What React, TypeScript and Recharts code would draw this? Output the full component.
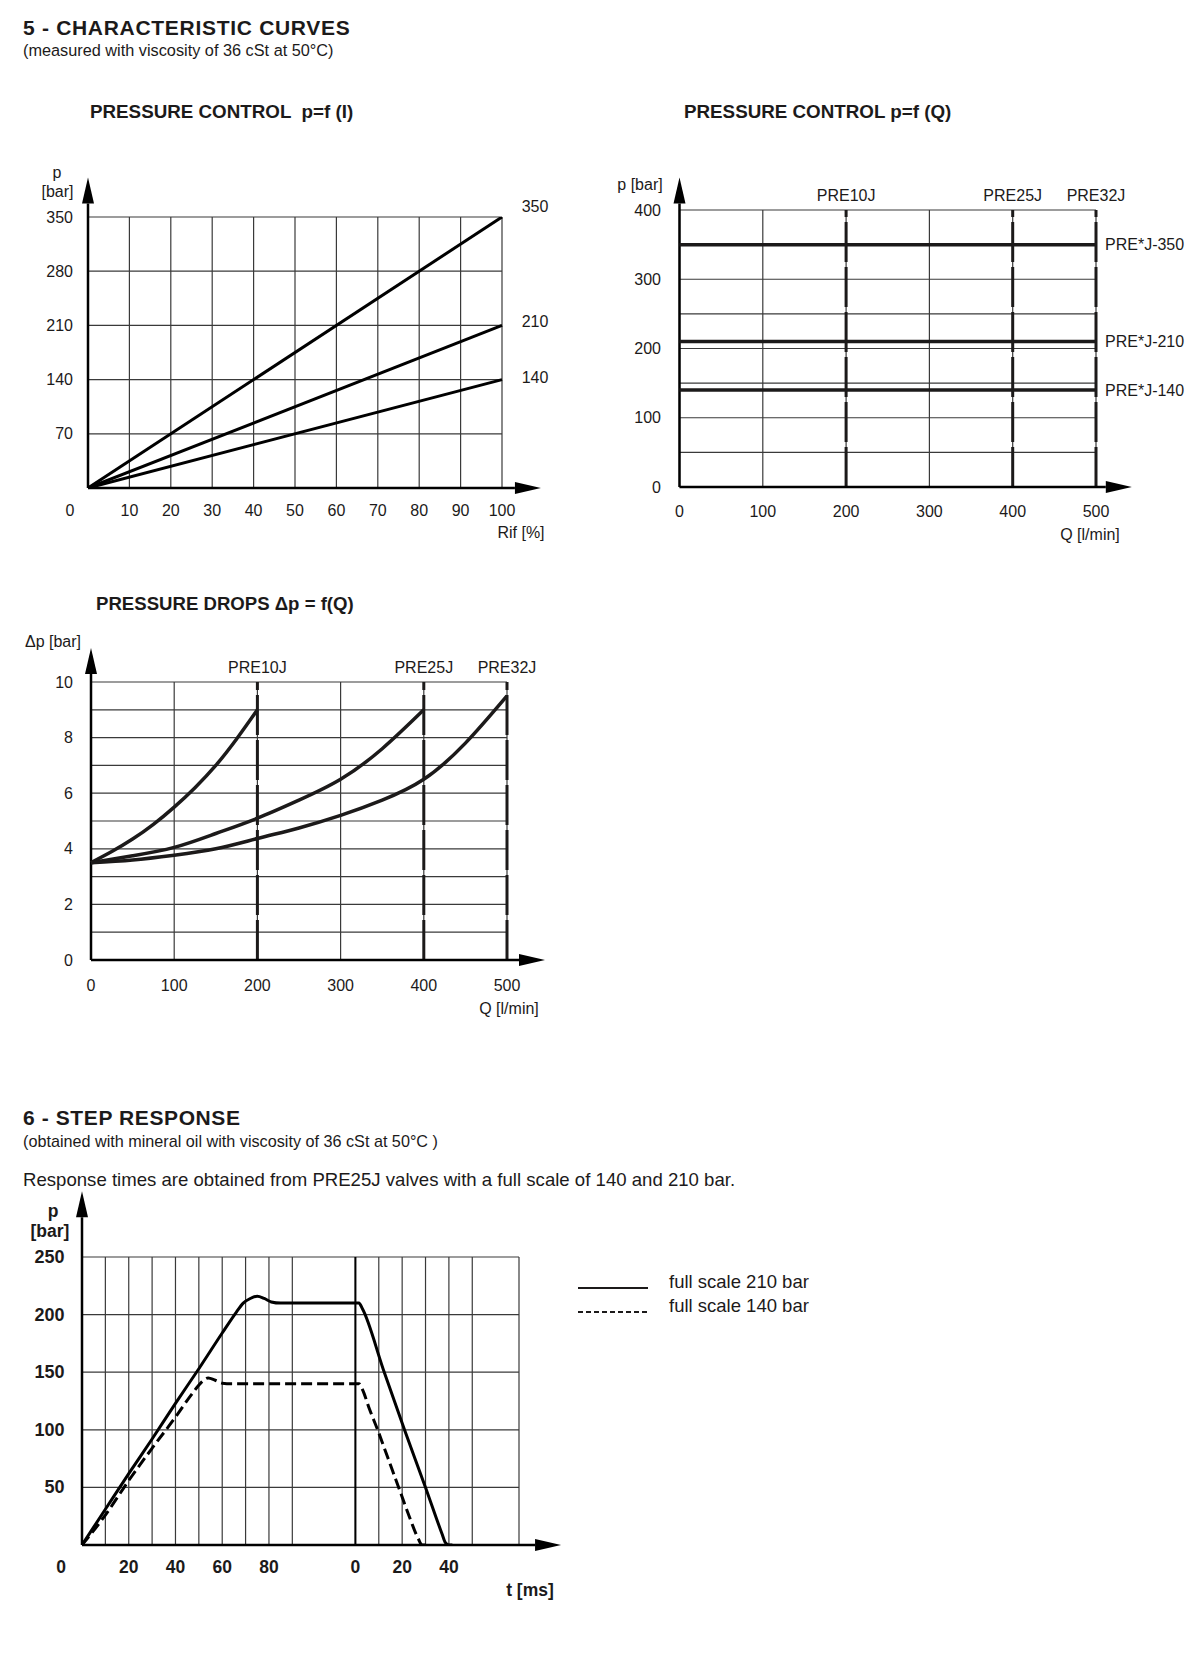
import React from 'react';
import {
    CartesianGrid,
    Legend,
    Line,
    LineChart,
    ReferenceLine,
    XAxis,
    YAxis,
} from 'recharts';

const FONT = '"Liberation Sans", Arial, Helvetica, sans-serif';
const INK = '#1c1a1a';
const GRID = '#3a3a3a';

// 5.1 pressure control p = f(I)
const RIF = [0, 100];
const P_FS350 = [0, 350];
const P_FS210 = [0, 210];
const P_FS140 = [0, 140];
const RIF_TICKS = [0, 10, 20, 30, 40, 50, 60, 70, 80, 90, 100];
const P_TICKS = [0, 70, 140, 210, 280, 350];
const FS_TAGS = [350, 210, 140];

// 5.2 pressure control p = f(Q)
const Q_RANGE = [0, 500];
const PQ_350 = [350, 350];
const PQ_210 = [210, 210];
const PQ_140 = [140, 140];
const Q_TICKS = [0, 100, 200, 300, 400, 500];
const PQ_TICKS = [0, 50, 100, 150, 200, 250, 300, 350, 400];
const SETTING_TAGS = [350, 210, 140];
const SIZES = ['PRE10J', 'PRE25J', 'PRE32J'];
const SIZE_QMAX = [200, 400, 500];

// 5.3 pressure drops dp = f(Q)
const DP10_Q = [0, 25, 50, 75, 100, 125, 150, 175, 200];
const DP10 = [3.5, 3.9, 4.35, 4.88, 5.5, 6.2, 7.0, 7.95, 9.0];
const DP25_Q = [0, 50, 100, 150, 200, 250, 300, 350, 400];
const DP25 = [3.5, 3.75, 4.05, 4.55, 5.1, 5.75, 6.5, 7.6, 9.0];
const DP32_Q = [0, 50, 100, 150, 200, 250, 300, 350, 400, 450, 500];
const DP32 = [3.5, 3.6, 3.77, 4.0, 4.37, 4.75, 5.2, 5.75, 6.5, 7.8, 9.5];
const DP_TICKS = [0, 1, 2, 3, 4, 5, 6, 7, 8, 9, 10];

// 6 step response (time in ms, rise from first origin, fall from second origin)
const RISE_T_210 = [0, 10, 20, 30, 40, 50, 60, 66, 69, 72, 75, 78, 81, 85, 117];
const RISE_P_210 = [0, 31, 62, 92, 123, 153, 184, 202, 210, 214, 216, 214, 211, 210, 210];
const FALL_T_210 = [0, 1.5, 3, 12, 21, 30, 37, 38.5, 40, 41.5];
const FALL_P_210 = [210, 210, 205, 152, 100, 50, 10, 2, 0, 0];
const RISE_T_140 = [0, 10, 20, 30, 40, 47, 51, 54, 57, 60, 64, 117];
const RISE_P_140 = [0, 26, 56, 84, 111, 131, 141, 145, 143, 140.5, 140, 140];
const FALL_T_140 = [0, 1.5, 3, 6, 9.5, 14, 18.5, 23, 27, 28.5, 30.5];
const FALL_P_140 = [140, 140, 135, 118, 100, 75, 50, 25, 5, 0, 0];
const STEP_NAMES = ['full scale 210 bar', 'full scale 140 bar'];
const T_GRID_RISE = [0, 10, 20, 30, 40, 50, 60, 70, 80, 90];
const T_GRID_FALL = [0, 10, 20, 30, 40, 50, 70];
const T_LABELS_RISE = [0, 20, 40, 60, 80];
const T_LABELS_FALL = [0, 20, 40];
const SR_P_TICKS = [0, 50, 100, 150, 200, 250];
const FALL_ORIGIN = 117; // where the broken time axis restarts at 0

const rifRows = RIF.map((x, i) => ({ x, p350: P_FS350[i], p210: P_FS210[i], p140: P_FS140[i] }));
const qRows = Q_RANGE.map((x, i) => ({ x, p350: PQ_350[i], p210: PQ_210[i], p140: PQ_140[i] }));
const dp10Rows = DP10_Q.map((x, i) => ({ x, dp: DP10[i] }));
const dp25Rows = DP25_Q.map((x, i) => ({ x, dp: DP25[i] }));
const dp32Rows = DP32_Q.map((x, i) => ({ x, dp: DP32[i] }));
const stepRows = (rt: number[], rp: number[], ft: number[], fp: number[]) => [
    ...rt.map((t, i) => ({ x: t, p: rp[i] })),
    ...ft.map((t, i) => ({ x: FALL_ORIGIN + t, p: fp[i] })),
];
const step210 = stepRows(RISE_T_210, RISE_P_210, FALL_T_210, FALL_P_210);
const step140 = stepRows(RISE_T_140, RISE_P_140, FALL_T_140, FALL_P_140);
const stepGrid = [...T_GRID_RISE, ...T_GRID_FALL.map((t) => FALL_ORIGIN + t)];

type TickOpts = {
    dx?: number;
    dy?: number;
    size?: number;
    bold?: boolean;
    anchor?: 'start' | 'middle' | 'end';
    text?: (v: number) => string;
    shift?: Record<string, [number, number]>;
};

const makeTick = (o: TickOpts) => (props: any) => {
    const { x, y, payload } = props;
    const v = payload?.value;
    const label = o.text ? o.text(v) : String(v);
    if (!label) return <g />;
    const [sx, sy] = o.shift?.[String(v)] ?? [0, 0];
    return (
        <text
            x={x + (o.dx ?? 0) + sx}
            y={y + (o.dy ?? 0) + sy}
            textAnchor={o.anchor ?? 'middle'}
            dominantBaseline="central"
            fontSize={o.size ?? 16}
            fontWeight={o.bold ? 700 : 400}
            fill={INK}
        >
            {label}
        </text>
    );
};

const arrowShape = (props: any) => {
    const { x1, y1, x2, y2 } = props;
    const len = Math.hypot(x2 - x1, y2 - y1) || 1;
    const ux = (x2 - x1) / len;
    const uy = (y2 - y1) / len;
    const bx = x2 - ux * 26;
    const by = y2 - uy * 26;
    const px = -uy * 6;
    const py = ux * 6;
    return (
        <g>
            <line x1={x1} y1={y1} x2={bx} y2={by} stroke="#000" strokeWidth={2.5} />
            <polygon
                points={`${x2},${y2} ${bx + px},${by + py} ${bx - px},${by - py}`}
                fill="#000"
            />
        </g>
    );
};

const sizeLine = (q: number, name: string) => (
    <ReferenceLine
        key={name}
        x={q}
        stroke={INK}
        strokeWidth={3}
        strokeDasharray="40 5"
        label={{ value: name, position: 'top', offset: 9, fontSize: 16, fill: INK }}
    />
);

function PressureCurrentChart() {
    return (
        <LineChart
            width={600}
            height={400}
            data={rifRows}
            margin={{ top: 67, right: 38, bottom: 22, left: 0 }}
        >
            <CartesianGrid stroke={GRID} strokeWidth={1.2} />
            <XAxis
                dataKey="x"
                type="number"
                domain={[0, 100]}
                ticks={RIF_TICKS}
                interval={0}
                height={40}
                axisLine={false}
                tickLine={false}
                tickSize={0}
                tick={makeTick({ dy: 20, shift: { '0': [-18, 0] } })}
            />
            <YAxis
                type="number"
                domain={[0, 350]}
                ticks={P_TICKS}
                interval={0}
                width={88}
                axisLine={false}
                tickLine={false}
                tickSize={0}
                allowDataOverflow
                tick={makeTick({ dx: -13, anchor: 'end', text: (v) => (v ? String(v) : '') })}
            />
            <YAxis
                yAxisId="tags"
                orientation="right"
                type="number"
                domain={[0, 350]}
                ticks={FS_TAGS}
                interval={0}
                width={60}
                axisLine={false}
                tickLine={false}
                tickSize={0}
                allowDataOverflow
                tick={makeTick({
                    dx: 31,
                    shift: { '350': [0, -11], '210': [0, -4], '140': [0, -2] },
                })}
            />
            <ReferenceLine segment={[{ x: 0, y: 0 }, { x: 109.4, y: 0 }]} ifOverflow="visible" shape={arrowShape} />
            <ReferenceLine segment={[{ x: 0, y: 0 }, { x: 0, y: 401 }]} ifOverflow="visible" shape={arrowShape} />
            {['p350', 'p210', 'p140'].map((k) => (
                <Line
                    key={k}
                    dataKey={k}
                    type="linear"
                    stroke="#000"
                    strokeWidth={3}
                    dot={false}
                    activeDot={false}
                    isAnimationActive={false}
                />
            ))}
        </LineChart>
    );
}

function PressureFlowChart() {
    return (
        <LineChart
            width={600}
            height={400}
            data={qRows}
            margin={{ top: 60, right: 4, bottom: 23, left: 0 }}
        >
            <CartesianGrid stroke={GRID} strokeWidth={1.2} />
            <XAxis
                dataKey="x"
                type="number"
                domain={[0, 500]}
                ticks={Q_TICKS}
                interval={0}
                height={40}
                axisLine={false}
                tickLine={false}
                tickSize={0}
                tick={makeTick({ dy: 22 })}
            />
            <YAxis
                type="number"
                domain={[0, 400]}
                ticks={PQ_TICKS}
                interval={0}
                width={79.5}
                axisLine={false}
                tickLine={false}
                tickSize={0}
                allowDataOverflow
                tick={makeTick({ dx: -16.5, anchor: 'end', text: (v) => (v % 100 === 0 ? String(v) : '') })}
            />
            <YAxis
                yAxisId="tags"
                orientation="right"
                type="number"
                domain={[0, 400]}
                ticks={SETTING_TAGS}
                interval={0}
                width={100}
                axisLine={false}
                tickLine={false}
                tickSize={0}
                allowDataOverflow
                tick={makeTick({ dx: 7, anchor: 'start', text: (v) => `PRE*J-${v}` })}
            />
            {SIZES.map((s, i) => sizeLine(SIZE_QMAX[i], s))}
            <ReferenceLine segment={[{ x: 0, y: 0 }, { x: 543, y: 0 }]} ifOverflow="visible" shape={arrowShape} />
            <ReferenceLine segment={[{ x: 0, y: 0 }, { x: 0, y: 447 }]} ifOverflow="visible" shape={arrowShape} />
            {['p350', 'p210', 'p140'].map((k) => (
                <Line
                    key={k}
                    dataKey={k}
                    type="linear"
                    stroke={INK}
                    strokeWidth={3.5}
                    dot={false}
                    activeDot={false}
                    isAnimationActive={false}
                />
            ))}
        </LineChart>
    );
}

function PressureDropChart() {
    return (
        <LineChart
            width={600}
            height={420}
            margin={{ top: 62, right: 93, bottom: 40, left: 0 }}
        >
            <CartesianGrid stroke={GRID} strokeWidth={1.2} />
            <XAxis
                dataKey="x"
                type="number"
                domain={[0, 500]}
                ticks={Q_TICKS}
                interval={0}
                height={40}
                axisLine={false}
                tickLine={false}
                tickSize={0}
                tick={makeTick({ dy: 23 })}
            />
            <YAxis
                type="number"
                domain={[0, 10]}
                ticks={DP_TICKS}
                interval={0}
                width={91}
                axisLine={false}
                tickLine={false}
                tickSize={0}
                allowDataOverflow
                tick={makeTick({ dx: -16, anchor: 'end', text: (v) => (v % 2 === 0 ? String(v) : '') })}
            />
            {SIZES.map((s, i) => sizeLine(SIZE_QMAX[i], s))}
            <ReferenceLine segment={[{ x: 0, y: 0 }, { x: 545.7, y: 0 }]} ifOverflow="visible" shape={arrowShape} />
            <ReferenceLine segment={[{ x: 0, y: 0 }, { x: 0, y: 11.22 }]} ifOverflow="visible" shape={arrowShape} />
            {[dp10Rows, dp25Rows, dp32Rows].map((rows, i) => (
                <Line
                    key={SIZES[i]}
                    data={rows}
                    dataKey="dp"
                    type="natural"
                    stroke={INK}
                    strokeWidth={3.5}
                    dot={false}
                    activeDot={false}
                    isAnimationActive={false}
                />
            ))}
        </LineChart>
    );
}

const StepLegend = ({ payload }: any) => {
    const items = [...(payload ?? [])].sort(
        (a: any, b: any) => STEP_NAMES.indexOf(a.value) - STEP_NAMES.indexOf(b.value),
    );
    return (
        <div style={{ fontFamily: FONT }}>
            {items.map((e: any) => (
                <div
                    key={e.value}
                    style={{ display: 'flex', alignItems: 'center', height: 24, fontSize: 18.5, color: INK }}
                >
                    <svg width={70} height={24} style={{ display: 'block' }}>
                        <line
                            x1={0}
                            x2={70}
                            y1={18}
                            y2={18}
                            stroke={INK}
                            strokeWidth={1.8}
                            strokeDasharray={e.payload?.strokeDasharray ? '5 3' : undefined}
                        />
                    </svg>
                    <span style={{ marginLeft: 21 }}>{e.value}</span>
                </div>
            ))}
        </div>
    );
};

function StepResponseChart() {
    const tLabel = (v: number) => {
        if (v < FALL_ORIGIN) return T_LABELS_RISE.includes(v) ? String(v) : '';
        const t = v - FALL_ORIGIN;
        return T_LABELS_FALL.includes(t) ? String(t) : '';
    };
    return (
        <LineChart
            width={820}
            height={440}
            margin={{ top: 77, right: 301, bottom: 35, left: 0 }}
        >
            <CartesianGrid stroke={GRID} strokeWidth={1.2} />
            <XAxis
                dataKey="x"
                type="number"
                domain={[0, FALL_ORIGIN + 70]}
                ticks={stepGrid}
                interval={0}
                height={40}
                axisLine={false}
                tickLine={false}
                tickSize={0}
                allowDataOverflow
                tick={makeTick({ dy: 20, size: 17.5, bold: true, text: tLabel, shift: { '0': [-21, 0] } })}
            />
            <YAxis
                type="number"
                domain={[0, 250]}
                ticks={SR_P_TICKS}
                interval={0}
                width={82}
                axisLine={false}
                tickLine={false}
                tickSize={0}
                allowDataOverflow
                tick={makeTick({ dx: -15.5, anchor: 'end', size: 18, bold: true, text: (v) => (v ? String(v) : '') })}
            />
            <ReferenceLine x={FALL_ORIGIN} stroke="#000" strokeWidth={2} />
            <ReferenceLine segment={[{ x: 0, y: 0 }, { x: 205, y: 0 }]} ifOverflow="visible" shape={arrowShape} />
            <ReferenceLine segment={[{ x: 0, y: 0 }, { x: 0, y: 307 }]} ifOverflow="visible" shape={arrowShape} />
            <Line
                data={step210}
                dataKey="p"
                name={STEP_NAMES[0]}
                type="monotone"
                stroke="#000"
                strokeWidth={3}
                dot={false}
                activeDot={false}
                isAnimationActive={false}
            />
            <Line
                data={step140}
                dataKey="p"
                name={STEP_NAMES[1]}
                type="monotone"
                stroke="#000"
                strokeWidth={3}
                strokeDasharray="11 5"
                dot={false}
                activeDot={false}
                isAnimationActive={false}
            />
            <Legend
                layout="vertical"
                align="center"
                verticalAlign="middle"
                content={<StepLegend />}
                wrapperStyle={{ left: 578, top: 90, width: 240, height: 48 }}
            />
        </LineChart>
    );
}

type Note = { x: number; y: number; t: string; size: number; bold?: boolean; anchor?: string; ls?: number };

const NOTES: Note[] = [
    { x: 23, y: 27, t: '5 - CHARACTERISTIC CURVES', size: 21, bold: true, ls: 0.7 },
    { x: 23, y: 50, t: '(measured with viscosity of 36 cSt at 50°C)', size: 16.3 },
    { x: 90, y: 111, t: 'PRESSURE CONTROL  p=f (I)', size: 18.8, bold: true },
    { x: 684, y: 111, t: 'PRESSURE CONTROL p=f (Q)', size: 18.8, bold: true },
    { x: 57, y: 172, t: 'p', size: 16, anchor: 'middle' },
    { x: 57.5, y: 191.5, t: '[bar]', size: 16, anchor: 'middle' },
    { x: 521, y: 532, t: 'Rif [%]', size: 16, anchor: 'middle' },
    { x: 640, y: 184, t: 'p [bar]', size: 16, anchor: 'middle' },
    { x: 1090, y: 534, t: 'Q [l/min]', size: 16, anchor: 'middle' },
    { x: 96, y: 603, t: 'PRESSURE DROPS Δp = f(Q)', size: 18.6, bold: true },
    { x: 53, y: 641, t: 'Δp [bar]', size: 16, anchor: 'middle' },
    { x: 509, y: 1008, t: 'Q [l/min]', size: 16, anchor: 'middle' },
    { x: 23, y: 1117, t: '6 - STEP RESPONSE', size: 21, bold: true, ls: 0.6 },
    { x: 23, y: 1141, t: '(obtained with mineral oil with viscosity of 36 cSt at 50°C )', size: 16.2 },
    { x: 23, y: 1179, t: 'Response times are obtained from PRE25J valves with a full scale of 140 and 210 bar.', size: 18.6 },
    { x: 53, y: 1211, t: 'p', size: 17.5, bold: true, anchor: 'middle' },
    { x: 50, y: 1231, t: '[bar]', size: 17.5, bold: true, anchor: 'middle' },
    { x: 530, y: 1590, t: 't [ms]', size: 17.5, bold: true, anchor: 'middle' },
];

export default function App() {
    return (
        <div
            style={{
                position: 'absolute',
                left: 0,
                top: 0,
                width: 1200,
                height: 1668,
                background: '#fff',
                fontFamily: FONT,
                color: INK,
            }}
        >
            <svg width={1200} height={1668} style={{ position: 'absolute', left: 0, top: 0 }}>
                {NOTES.map((n) => (
                    <text
                        key={n.t + n.y}
                        x={n.x}
                        y={n.y}
                        fontSize={n.size}
                        fontWeight={n.bold ? 700 : 400}
                        textAnchor={(n.anchor as any) ?? 'start'}
                        dominantBaseline="central"
                        letterSpacing={n.ls ?? 0}
                        fill={INK}
                        style={{ whiteSpace: 'pre' }}
                    >
                        {n.t}
                    </text>
                ))}
            </svg>
            <div style={{ position: 'absolute', left: 0, top: 150 }}>
                <PressureCurrentChart />
            </div>
            <div style={{ position: 'absolute', left: 600, top: 150 }}>
                <PressureFlowChart />
            </div>
            <div style={{ position: 'absolute', left: 0, top: 620 }}>
                <PressureDropChart />
            </div>
            <div style={{ position: 'absolute', left: 0, top: 1180 }}>
                <StepResponseChart />
            </div>
        </div>
    );
}
